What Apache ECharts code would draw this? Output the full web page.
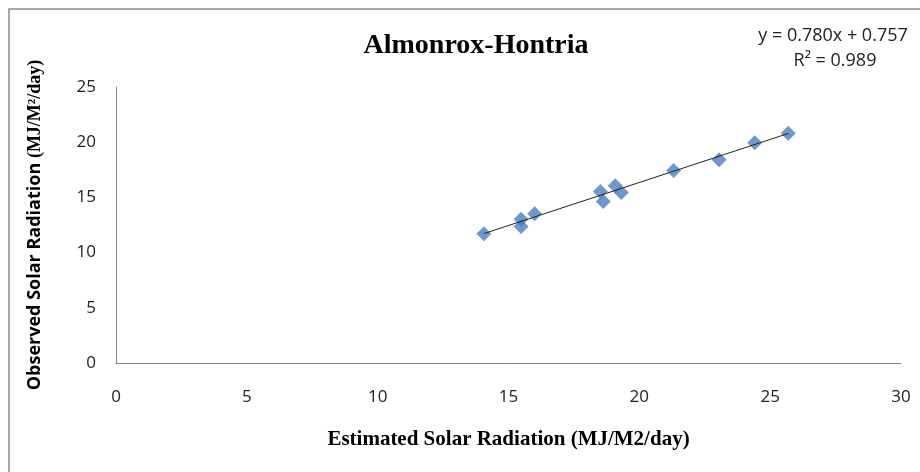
<!DOCTYPE html>
<html>
<head>
<meta charset="utf-8">
<script src="https://cdn.jsdelivr.net/npm/echarts@6/dist/echarts.min.js"></script>
<style>
  html, body { margin: 0; padding: 0; background: #fff; }
  #chart { width: 920px; height: 472px; }
</style>
</head>
<body>
<div id="chart"></div>
<script>
// estimated (x) vs observed (y) solar radiation, MJ/M2/day
var estimated = [14.06, 15.48, 15.48, 16.0, 18.51, 18.62, 19.08, 19.31, 21.31, 23.05, 24.41, 25.69];
var observed  = [11.70, 13.03, 12.36, 13.51, 15.53, 14.62, 16.05, 15.44, 17.43, 18.40, 19.96, 20.81];

// linear trendline end points (y = 0.780x + 0.757)
var trendX = [14.06, 25.69];
var trendY = [11.72, 20.79];

var xTicks = [0, 5, 10, 15, 20, 25, 30];
var yTicks = [0, 5, 10, 15, 20, 25];

var chart = echarts.init(document.getElementById('chart'));

var points = estimated.map(function (v, i) { return [v, observed[i]]; });
var trend = trendX.map(function (v, i) { return [v, trendY[i]]; });

var option = {
    backgroundColor: '#fff',
    animation: false,
    title: {
        text: 'Almonrox-Hontria',
        left: 471,
        textAlign: 'center',
        top: 27,
        textStyle: {
            fontFamily: 'Liberation Serif',
            fontWeight: 'bold',
            fontSize: 28,
            color: '#000'
        }
    },
    grid: {
        left: 116,
        right: 19,
        top: 87,
        bottom: 109
    },
    xAxis: {
        type: 'value',
        min: xTicks[0],
        max: xTicks[xTicks.length - 1],
        interval: 5,
        name: 'Estimated Solar Radiation (MJ/M2/day)',
        nameLocation: 'middle',
        nameGap: 66,
        nameTextStyle: {
            fontFamily: 'Liberation Serif',
            fontWeight: 'bold',
            fontSize: 21,
            color: '#000'
        },
        splitLine: { show: false },
        axisTick: { show: false },
        axisLine: { lineStyle: { color: '#868686', width: 1 } },
        axisLabel: {
            margin: 26,
            fontFamily: 'Open Sans',
            fontSize: 17,
            color: '#222'
        }
    },
    yAxis: {
        type: 'value',
        min: yTicks[0],
        max: yTicks[yTicks.length - 1],
        interval: 5,
        name: '{a|Observed Solar Radiation }{b|(MJ/M²/day)}',
        nameLocation: 'middle',
        nameGap: 72,
        nameTextStyle: {
            rich: {
                a: {
                    fontFamily: 'Open Sans',
                    fontWeight: 'bold',
                    fontSize: 18,
                    color: '#000'
                },
                b: {
                    fontFamily: 'Liberation Serif',
                    fontWeight: 'bold',
                    fontSize: 18,
                    color: '#000'
                }
            }
        },
        splitLine: { show: false },
        axisTick: { show: false },
        axisLine: { show: true, lineStyle: { color: '#868686', width: 1 } },
        axisLabel: {
            margin: 20,
            fontFamily: 'Open Sans',
            fontSize: 17,
            color: '#222'
        }
    },
    graphic: [
        {
            type: 'rect',
            shape: { x: 9, y: 9, width: 1000, height: 1000 },
            style: { fill: 'none', stroke: '#8c8c8c', lineWidth: 1.5 },
            silent: true
        },
        {
            type: 'text',
            x: 833,
            y: 36,
            style: {
                text: 'y = 0.780x + 0.757',
                fontFamily: 'Open Sans',
                fontSize: 18,
                fill: '#222',
                align: 'center',
                verticalAlign: 'middle'
            }
        },
        {
            type: 'text',
            x: 835,
            y: 61,
            style: {
                text: 'R² = 0.989',
                fontFamily: 'Open Sans',
                fontSize: 18,
                fill: '#222',
                align: 'center',
                verticalAlign: 'middle'
            }
        }
    ],
    series: [
        {
            type: 'scatter',
            data: points,
            symbol: 'diamond',
            symbolSize: 15,
            itemStyle: { color: '#4a7ebb' },
            z: 2
        },
        {
            type: 'line',
            data: trend,
            symbol: 'none',
            lineStyle: { color: '#222', width: 1 },
            z: 3
        }
    ]
};

chart.setOption(option);
</script>
</body>
</html>
